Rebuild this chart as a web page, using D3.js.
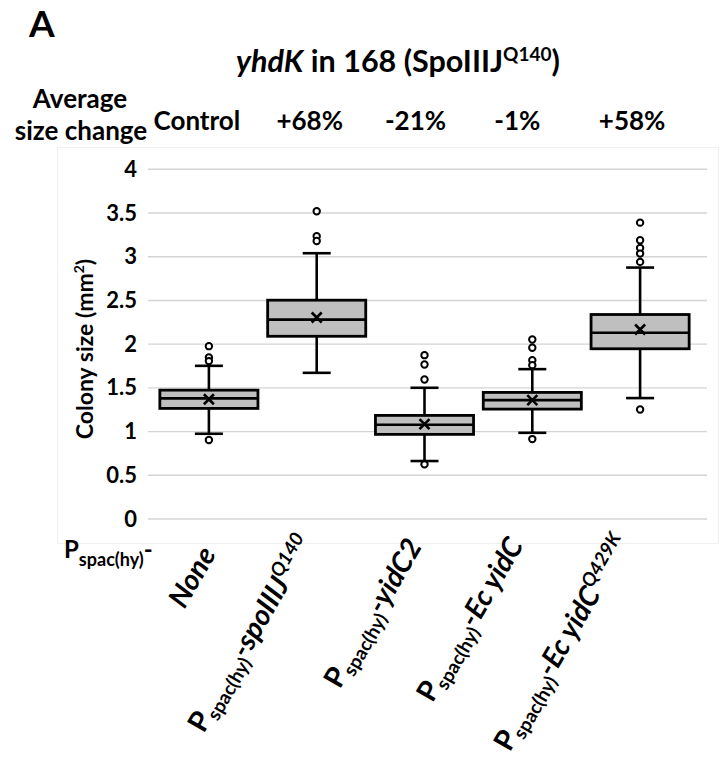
<!DOCTYPE html>
<html>
<head>
<meta charset="utf-8">
<script src="https://cdn.jsdelivr.net/npm/d3@7/dist/d3.min.js"></script>
<style>
  html, body { margin: 0; padding: 0; background: #ffffff; }
  svg { display: block; }
  text { font-family: Lato, "Open Sans", sans-serif; font-weight: bold; fill: #000; }
</style>
</head>
<body>
<svg id="chart" width="721" height="769"></svg>
<script>
// ---------- data ----------
const categories = ["None", "spoIIIJ Q140", "yidC2", "Ec yidC", "Ec yidC Q429K"];
const changeLabels = ["Control", "+68%", "-21%", "-1%", "+58%"];
const q1Values = [1.265, 2.09, 0.968, 1.257, 1.947];
const medianValues = [1.38, 2.28, 1.078, 1.36, 2.13];
const q3Values = [1.474, 2.503, 1.185, 1.448, 2.339];
const whiskerLow = [0.975, 1.672, 0.663, 0.986, 1.383];
const whiskerHigh = [1.752, 3.04, 1.501, 1.714, 2.876];
const meanValues = [1.37, 2.305, 1.086, 1.36, 2.168];
const outlierValues = [
  [1.977, 1.848, 1.806, 0.903],
  [3.52, 3.234, 3.18],
  [1.874, 1.768, 1.596, 0.625],
  [2.053, 1.958, 1.817, 1.76, 0.914],
  [3.39, 3.189, 3.10, 3.036, 2.941, 1.253]
];
const yTicks = [0, 0.5, 1, 1.5, 2, 2.5, 3, 3.5, 4];
const yTickLabels = ["0", "0.5", "1", "1.5", "2", "2.5", "3", "3.5", "4"];
// rotated category label pieces: [text, kind]
const categoryLabelParts = [
  [["None", "main"]],
  [["P", "P"], ["spac(hy)", "sub"], ["-spoIIIJ", "main"], ["Q140", "sup"]],
  [["P", "P"], ["spac(hy)", "sub"], ["-yidC2", "main"]],
  [["P", "P"], ["spac(hy)", "sub"], ["-Ec yidC", "main"]],
  [["P", "P"], ["spac(hy)", "sub"], ["-Ec yidC", "main"], ["Q429K", "sup"]]
];

// ---------- layout ----------
const svg = d3.select("#chart");
const plotLeft = 148, plotRight = 707, plotTop = 169.3, plotBottom = 519;
// top-right corner placement of rotated labels (offset from band centre, top y)
const labelRightOffset = [13, 6, 7, 1, 0];
const labelTop = [540, 528, 532, 530, 527];
const changeLabelOffset = [-12, -7, -9, -15, -8];

const y = d3.scaleLinear().domain([0, 4]).range([plotBottom, plotTop]);
const x = d3.scaleBand().domain(categories).range([155, 694]).paddingInner(0.09).paddingOuter(0.045);
const cx = c => x(c) + x.bandwidth() / 2;

// chart-area border
svg.append("rect").attr("x", 57.5).attr("y", 147.5).attr("width", 661).attr("height", 396)
  .attr("fill", "none").attr("stroke", "#f0f0f0").attr("stroke-width", 1);

// gridlines
svg.append("g").selectAll("line").data(yTicks).join("line")
  .attr("x1", plotLeft).attr("x2", plotRight)
  .attr("y1", d => y(d)).attr("y2", d => y(d))
  .attr("stroke", "#d4d4d4").attr("stroke-width", 1.4);

// y axis via d3.axisLeft (labels only)
const yAxis = d3.axisLeft(y).tickValues(yTicks).tickFormat((d, i) => yTickLabels[i]).tickSize(0).tickPadding(11);
const yg = svg.append("g").attr("transform", `translate(${plotLeft},0)`).call(yAxis);
yg.select(".domain").remove();
yg.selectAll("text").style("font-family", "Lato, 'Open Sans', sans-serif")
  .style("font-weight", "bold").style("font-size", "22px").attr("fill", "#000");

// y title
const yt = svg.append("text").attr("transform", "translate(93,349) rotate(-90)")
  .attr("text-anchor", "middle").style("font-size", "23px");
yt.append("tspan").text("Colony size (mm");
yt.append("tspan").text("2").style("font-size", "14px").attr("dy", -9);
yt.append("tspan").text(")").attr("dy", 9);

// boxes
const boxes = svg.append("g");
categories.forEach((c, i) => {
  const g = boxes.append("g");
  const xc = cx(c), w = x.bandwidth(), cap = 14;
  g.append("line").attr("x1", xc).attr("x2", xc).attr("y1", y(whiskerLow[i])).attr("y2", y(q1Values[i]))
    .attr("stroke", "#000").attr("stroke-width", 2.6);
  g.append("line").attr("x1", xc).attr("x2", xc).attr("y1", y(q3Values[i])).attr("y2", y(whiskerHigh[i]))
    .attr("stroke", "#000").attr("stroke-width", 2.6);
  g.append("line").attr("x1", xc - cap).attr("x2", xc + cap).attr("y1", y(whiskerLow[i])).attr("y2", y(whiskerLow[i]))
    .attr("stroke", "#000").attr("stroke-width", 2.6);
  g.append("line").attr("x1", xc - cap).attr("x2", xc + cap).attr("y1", y(whiskerHigh[i])).attr("y2", y(whiskerHigh[i]))
    .attr("stroke", "#000").attr("stroke-width", 2.6);
  g.append("rect").attr("x", x(c)).attr("width", w)
    .attr("y", y(q3Values[i])).attr("height", y(q1Values[i]) - y(q3Values[i]))
    .attr("fill", "#bfbfbf").attr("stroke", "#000").attr("stroke-width", 2.8);
  g.append("line").attr("x1", x(c)).attr("x2", x(c) + w).attr("y1", y(medianValues[i])).attr("y2", y(medianValues[i]))
    .attr("stroke", "#000").attr("stroke-width", 2.6);
  const my = y(meanValues[i]), s = 5;
  g.append("path").attr("d", `M${xc - s},${my - s}L${xc + s},${my + s}M${xc - s},${my + s}L${xc + s},${my - s}`)
    .attr("stroke", "#000").attr("stroke-width", 2.6).attr("fill", "none");
  g.selectAll("circle").data(outlierValues[i]).join("circle")
    .attr("cx", xc).attr("cy", d => y(d)).attr("r", 3.2)
    .attr("fill", "#fff").attr("stroke", "#000").attr("stroke-width", 2);
});

// "A"
svg.append("text").attr("x", 29).attr("y", 37).style("font-size", "37px").text("A");

// title
const title = svg.append("text").attr("x", 398).attr("y", 72).attr("text-anchor", "middle").style("font-size", "30.5px");
title.append("tspan").text("yhdK").style("font-style", "italic");
title.append("tspan").text(" in 168 (SpoIIIJ");
title.append("tspan").text("Q140").style("font-size", "19px").attr("dy", -11);
title.append("tspan").text(")").attr("dy", 11);

// average size change labels
svg.append("text").attr("x", 80).attr("y", 108).attr("text-anchor", "middle").style("font-size", "26px").text("Average");
svg.append("text").attr("x", 81).attr("y", 140).attr("text-anchor", "middle").style("font-size", "26px").text("size change");
svg.append("g").selectAll("text").data(categories).join("text")
  .attr("x", (d, i) => cx(d) + changeLabelOffset[i]).attr("y", 130)
  .attr("text-anchor", "middle").style("font-size", "26px")
  .text((d, i) => changeLabels[i]);

// P spac(hy)- prefix label
const pl = svg.append("text").attr("x", 64).attr("y", 558).style("font-size", "24px");
pl.append("tspan").text("P");
pl.append("tspan").text("spac(hy)").style("font-size", "18px").attr("dy", 8);
pl.append("tspan").text("-").attr("dy", -8);

// rotated category labels
categories.forEach((c, i) => {
  const t = svg.append("text")
    .attr("transform", `translate(${cx(c)},548) rotate(-60)`)
    .attr("text-anchor", "end");
  let shift = 0;
  categoryLabelParts[i].forEach(([txt, kind]) => {
    const sp = t.append("tspan").text(txt);
    let target = 0;
    if (kind === "main") { sp.style("font-size", "28.5px").style("font-style", "italic"); target = 0; }
    if (kind === "P") { sp.style("font-size", "28.5px"); target = 0; }
    if (kind === "sub") { sp.style("font-size", "19px"); target = 6; }
    if (kind === "sup") { sp.style("font-size", "19px").style("font-style", "italic"); target = -11; }
    sp.attr("dy", target - shift);
    shift = target;
  });
  // place the label so that its top-right corner sits where the reference has it
  const r = t.node().getBoundingClientRect();
  const sr = svg.node().getBoundingClientRect();
  const dx = (cx(c) + labelRightOffset[i]) - (r.right - sr.left);
  const dy = labelTop[i] - (r.top - sr.top);
  t.attr("transform", `translate(${cx(c) + dx},${548 + dy}) rotate(-60)`);
});
</script>
</body>
</html>
